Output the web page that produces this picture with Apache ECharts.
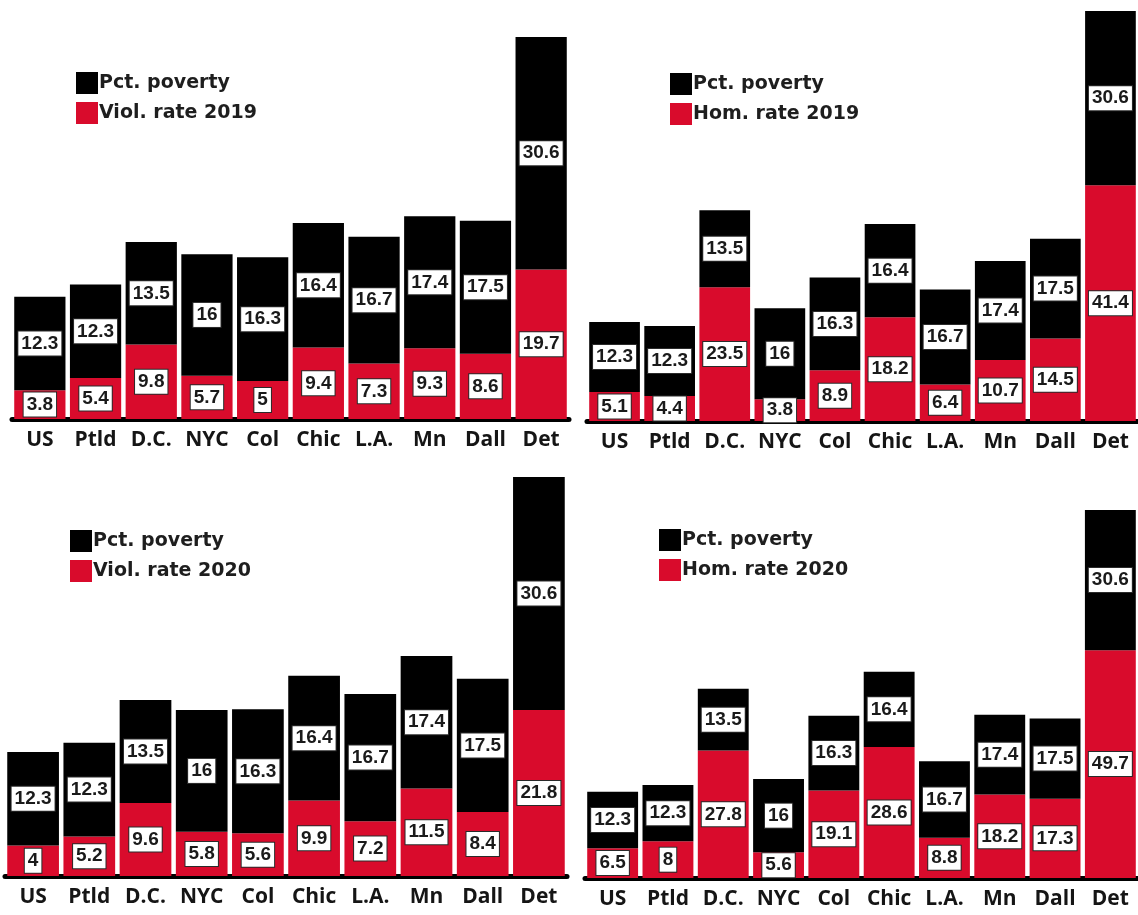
<!DOCTYPE html>
<html>
<head>
<meta charset="utf-8">
<title>Poverty and crime rates by city</title>
<script src="https://cdn.jsdelivr.net/npm/echarts@6/dist/echarts.min.js"></script>
<style>
  html, body { margin: 0; padding: 0; background: #fff; }
  #chart { width: 1138px; height: 915px; }
</style>
</head>
<body>
<div id="chart"></div>
<script>
// Cities on the category axis
const categories = ['US', 'Ptld', 'D.C.', 'NYC', 'Col', 'Chic', 'L.A.', 'Mn', 'Dall', 'Det'];

// Percent of residents in poverty (same in every panel)
const poverty = [12.3, 12.3, 13.5, 16, 16.3, 16.4, 16.7, 17.4, 17.5, 30.6];

// Violent crime and homicide rates
const violRate2019 = [3.8, 5.4, 9.8, 5.7, 5, 9.4, 7.3, 9.3, 8.6, 19.7];
const homRate2019 = [5.1, 4.4, 23.5, 3.8, 8.9, 18.2, 6.4, 10.7, 14.5, 41.4];
const violRate2020 = [4, 5.2, 9.6, 5.8, 5.6, 9.9, 7.2, 11.5, 8.4, 21.8];
const homRate2020 = [6.5, 8, 27.8, 5.6, 19.1, 28.6, 8.8, 18.2, 17.3, 49.7];

const povertyName = 'Pct. poverty';
const panels = [
  { rateName: 'Viol. rate 2019', rate: violRate2019 },
  { rateName: 'Hom. rate 2019', rate: homRate2019 },
  { rateName: 'Viol. rate 2020', rate: violRate2020 },
  { rateName: 'Hom. rate 2020', rate: homRate2020 }
];

const RED = '#d90b2c';
const BLACK = '#000000';

// Panel boxes (pixels) and legend anchors
const grids = [
  { left: 12, right: 569, top: 37, bottom: 419 },
  { left: 587, right: 1143, top: 11, bottom: 421 },
  { left: 5, right: 567, top: 477, bottom: 876 },
  { left: 585, right: 1143, top: 510, bottom: 878 }
];
const legendPos = [
  { left: 76, top: 72 },
  { left: 670, top: 73 },
  { left: 70, top: 530 },
  { left: 659, top: 529 }
];

const W = 1138, H = 915;

const valueLabel = {
  show: true,
  position: 'inside',
  formatter: p => String(p.value),
  color: '#1a1a1a',
  fontFamily: 'Liberation Sans, Arial, sans-serif',
  fontWeight: 'bold',
  fontSize: 19,
  lineHeight: 21,
  backgroundColor: '#ffffff',
  borderColor: '#2a2a2a',
  borderWidth: 1,
  padding: [2, 3, 1, 3]
};

const option = {
  backgroundColor: '#ffffff',
  animation: false,
  grid: grids.map(g => ({
    left: g.left,
    top: g.top,
    width: g.right - g.left,
    height: g.bottom - g.top,
    containLabel: false
  })),
  xAxis: grids.map((g, i) => ({
    type: 'category',
    gridIndex: i,
    data: categories,
    offset: 6,
    axisLine: { show: true, lineStyle: { color: '#000', width: 5 } },
    axisTick: { show: false },
    axisLabel: {
      interval: 0,
      margin: 5,
      color: '#151515',
      fontFamily: 'Open Sans, Liberation Sans, sans-serif',
      fontWeight: 'bold',
      fontSize: 21
    },
    splitLine: { show: false }
  })),
  yAxis: grids.map((g, i) => ({
    type: 'value',
    gridIndex: i,
    min: 0,
    max: v => v.max,
    show: false,
    splitLine: { show: false }
  })),
  legend: panels.map((p, i) => ({
    orient: 'vertical',
    left: legendPos[i].left,
    top: legendPos[i].top,
    padding: 0,
    itemWidth: 22,
    itemHeight: 22,
    itemGap: 8,
    icon: 'rect',
    selectedMode: false,
    data: [povertyName, p.rateName],
    textStyle: {
      color: '#1e1e1e',
      fontFamily: 'DejaVu Sans, sans-serif',
      fontWeight: 'bold',
      fontSize: 19,
      padding: [0, 0, 0, -4]
    }
  })),
  series: []
};

panels.forEach((p, i) => {
  option.series.push({
    name: p.rateName,
    type: 'bar',
    xAxisIndex: i,
    yAxisIndex: i,
    stack: 'panel' + i,
    data: p.rate,
    barCategoryGap: '8%',
    itemStyle: { color: RED },
    label: valueLabel
  });
  option.series.push({
    name: povertyName,
    type: 'bar',
    xAxisIndex: i,
    yAxisIndex: i,
    stack: 'panel' + i,
    data: poverty,
    barCategoryGap: '8%',
    itemStyle: { color: BLACK },
    label: valueLabel
  });
});

const chart = echarts.init(document.getElementById('chart'), null, { renderer: 'canvas', width: W, height: H });
chart.setOption(option);
</script>
</body>
</html>
